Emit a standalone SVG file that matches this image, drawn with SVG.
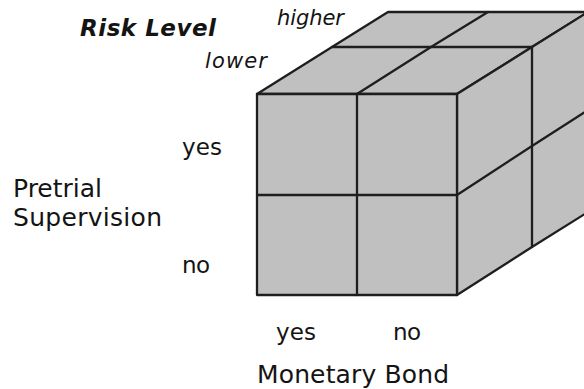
<svg xmlns="http://www.w3.org/2000/svg" width="584" height="389" viewBox="0 0 584 389">
<style>
.face{fill:#c0c0c0;stroke:#1e1e1e;stroke-width:2.3;stroke-linejoin:round}
.ln{fill:none;stroke:#1e1e1e;stroke-width:2.3;stroke-linecap:round;stroke-linejoin:round}
.t{font-family:"DejaVu Sans","Liberation Sans",sans-serif;fill:#141414;font-size:23px}
.it{font-style:italic;font-size:21px}
.bi{font-style:italic;font-weight:bold}
.big{font-size:25px}
</style>
<rect width="584" height="389" fill="#ffffff"/>
<g id="cube">
  <polygon class="face" points="257,94 457,94 532,47 588,12 388,12 332,47"/>
  <polygon class="face" points="457,94 532,47 588,12 588,212 532,247 457,295"/>
  <rect class="face" x="257" y="94" width="200" height="201"/>
  <g id="cube-lines">
    <polyline class="ln" points="332,47 532,47"/>
    <polyline class="ln" points="357,94 431,47 488,12"/>
    <polyline class="ln" points="532,47 532,247"/>
    <polyline class="ln" points="457,195 532,146 588,110"/>
    <polyline class="ln" points="357,94 357,295"/>
    <polyline class="ln" points="257,195 457,195"/>
  </g>
</g>
<g id="labels">
  <text class="t bi" x="80" y="36" textLength="136">Risk Level</text>
  <text class="t it" x="277" y="25" textLength="67">higher</text>
  <text class="t it" x="205" y="68" textLength="62">lower</text>
  <text class="t" x="182" y="155" textLength="40">yes</text>
  <text class="t" x="182" y="273" textLength="28">no</text>
  <text class="t big" x="13" y="197" textLength="89">Pretrial</text>
  <text class="t big" x="13" y="226" textLength="149">Supervision</text>
  <text class="t" x="276" y="340" textLength="40">yes</text>
  <text class="t" x="393" y="340" textLength="28">no</text>
  <text class="t big" x="257" y="383" textLength="192">Monetary Bond</text>
</g>
</svg>
